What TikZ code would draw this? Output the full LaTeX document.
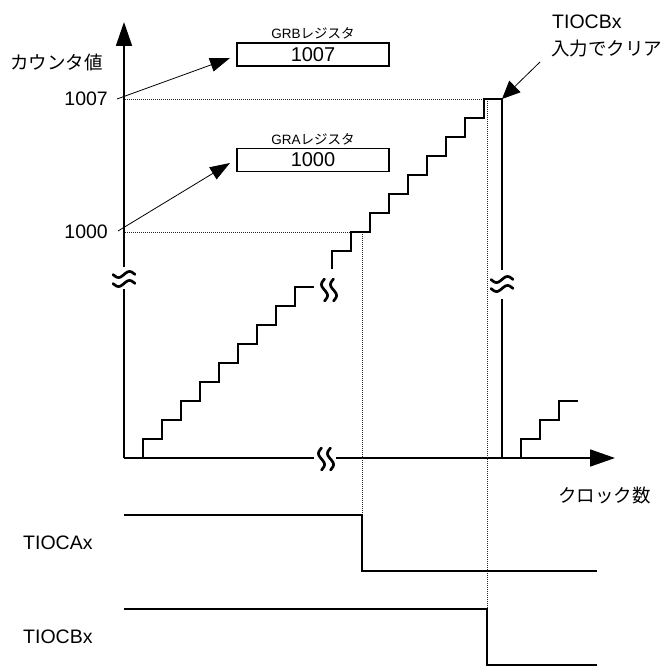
\documentclass[tikz,border=0pt]{standalone}
\usepackage{fontspec}
\setmainfont{Liberation Sans}
\newfontfamily\jp{Noto Sans CJK JP}
\usetikzlibrary{arrows.meta}
\begin{document}
\begin{tikzpicture}[x=1pt,y=-1pt,
  axis/.style={line width=1.8pt},
  stair/.style={line width=1.6pt},
  dots/.style={line width=0.7pt, dash pattern=on 1pt off 1pt, black!85},
  wave/.style={line width=1.6pt},
  ptr/.style={line width=0.8pt, -{Triangle[length=20pt,width=14pt]}},
  bigtip/.style={-{Triangle[length=24pt,width=16pt]}},
  lbl/.style={inner sep=0pt, font=\fontsize{19.5}{22}\selectfont},
  jlbl/.style={inner sep=0pt, font=\fontsize{18.5}{22}\selectfont\jp},
  regbox/.style={draw, line width=1.2pt, minimum width=152pt, minimum height=23pt, inner sep=0pt, font=\fontsize{20}{22}\selectfont},
  small/.style={inner sep=0pt, font=\fontsize{13.5}{15}\selectfont},
  brk/.pic={\foreach \o in {-4.5,4.5} \draw[line width=2.7pt, line cap=round] plot[domain=-11:11, samples=30, smooth] (\x, {\o - 3*sin(\x*180/11)});}
]
\useasboundingbox (0,0) rectangle (669,666);

% coordinates
\coordinate (O) at (124,458);
\coordinate (ytop) at (124,22);
\coordinate (xend) at (615,458);

% axes
\draw[axis] (O) -- (124,289);
\draw[axis,bigtip] (124,267) -- (ytop);
\pic at (124,279) {brk};
\draw[axis] (O) -- (314,458);
\draw[axis,-{Triangle[length=25pt,width=17pt]}] (336,458) -- (xend);
\pic[rotate=90] at (326,459) {brk};

% labels on axes
\node[jlbl, anchor=west] (ylab) at (10,62) {カウンタ値};
\node[jlbl, anchor=west] (xlab) at (558,495) {クロック数};
\node[lbl, anchor=east] (v1007) at (108,99) {1007};
\node[lbl, anchor=east] (v1000) at (108,232) {1000};

% registers
\node[regbox] (grb) at (313,54.5) {1007};
\node[small] (grbl) at (313,33) {GRB\jp レジスタ};
\node[regbox] (gra) at (313,160) {1000};
\node[small] (gral) at (313,139) {GRA\jp レジスタ};

\coordinate (s1007) at (117,99);
\coordinate (t1007) at (230,58);
\coordinate (s1000) at (118,231);
\coordinate (t1000) at (230,163);
\draw[ptr] (s1007) -- (t1007);
\draw[ptr] (s1000) -- (t1000);

% dotted guides
\draw[dots] (125,99) -- (484,99);
\draw[dots] (125,232) -- (351,232);
\draw[dots] (362,232) -- (362,515);
\draw[dots] (487,99) -- (487,609);

% lower staircase
\draw[stair] (143,458) foreach \i in {0,...,8} { -- ({143+19*\i},{439-19*\i}) -- ({162+19*\i},{439-19*\i}) };
\pic[rotate=90] at (329,290) {brk};

% upper staircase
\draw[stair] (332,269) foreach \j in {0,...,7} { -- ({332+19*\j},{251-19*\j}) -- ({351+19*\j},{251-19*\j}) } -- (484,99) -- (502,99) -- (502,270);
\draw[stair] (502,299) -- (502,458);
\pic at (502,284) {brk};

% restart staircase
\draw[stair] (521,458) -- (521,439) -- (540,439) -- (540,420) -- (559,420) -- (559,401) -- (578,401);

% clear annotation
\node[lbl, anchor=west] (tb1) at (552,22) {TIOCBx};
\node[jlbl, anchor=west] (tb2) at (551,49) {入力でクリア};
\coordinate (clrs) at (540,62);
\coordinate (clrt) at (502,99);
\draw[line width=0.8pt, -{Triangle[length=18pt,width=16pt]}] (clrs) -- (clrt);

% waveforms
\node[lbl, anchor=west] (ta) at (23,543) {TIOCAx};
\node[lbl, anchor=west] (tbx) at (23,637) {TIOCBx};
\draw[wave] (124,515) -- (362,515) -- (362,571) -- (597,571);
\draw[wave] (124,609) -- (487,609) -- (487,665) -- (597,665);
\end{tikzpicture}
\end{document}
